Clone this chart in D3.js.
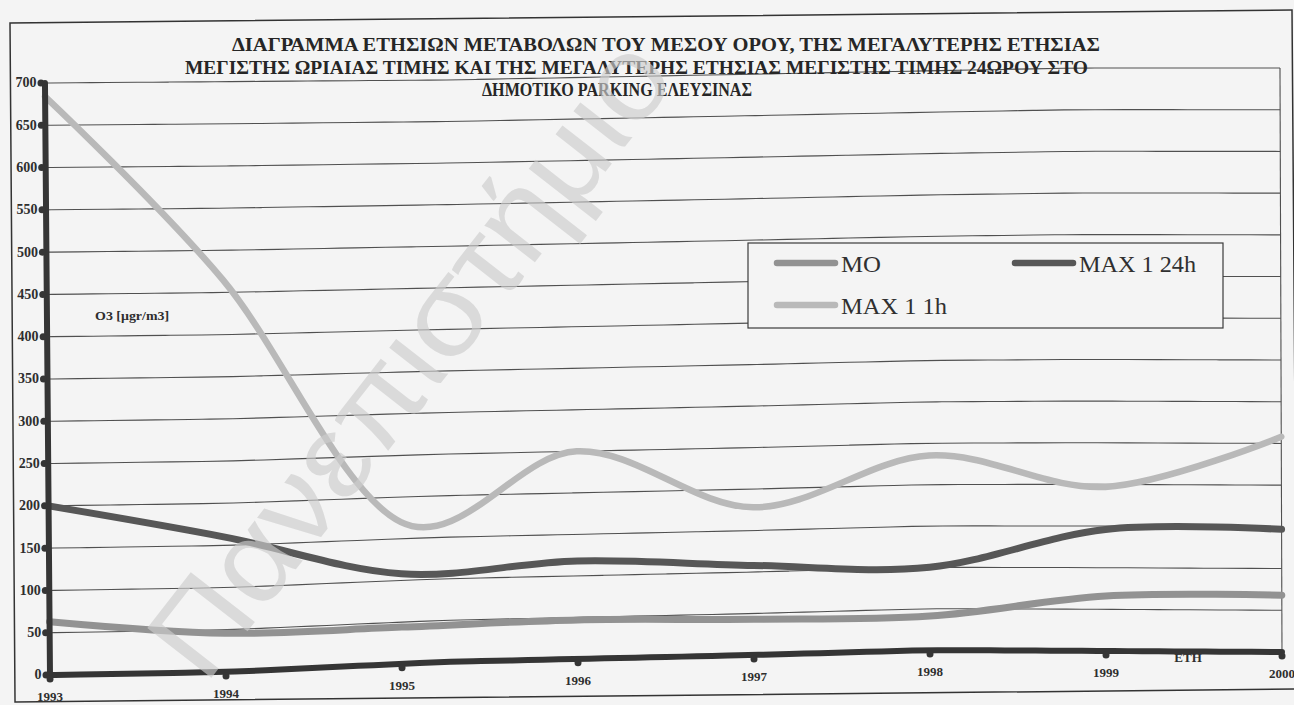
<!DOCTYPE html>
<html>
<head>
<meta charset="utf-8">
<script src="https://cdn.jsdelivr.net/npm/d3@7"></script>
<style>
    body { margin: 0; background: #f4f4f4; }
</style>
</head>
<body>
<div id="canvas"></div>
<script>
"use strict"

/* Data (O3, Δημοτικό Parking Ελευσίνας) */
let years = [1993, 1994, 1995, 1996, 1997, 1998, 1999, 2000];
let moValues = [63, 46, 44, 47, 43, 41, 66, 68];
let max24hValues = [200, 160, 108, 118, 108, 100, 146, 147];
let max1hValues = [684, 465, 170, 250, 178, 235, 197, 258];
let yTicks = [0, 50, 100, 150, 200, 250, 300, 350, 400, 450, 500, 550, 600, 650, 700];
let seriesNames = ["MO", "MAX 1 24h", "MAX 1 1h"];
let titleLines = [
    "ΔΙΑΓΡΑΜΜΑ ΕΤΗΣΙΩΝ ΜΕΤΑΒΟΛΩΝ ΤΟΥ ΜΕΣΟΥ ΟΡΟΥ, ΤΗΣ ΜΕΓΑΛΥΤΕΡΗΣ ΕΤΗΣΙΑΣ",
    "ΜΕΓΙΣΤΗΣ ΩΡΙΑΙΑΣ ΤΙΜΗΣ ΚΑΙ ΤΗΣ ΜΕΓΑΛΥΤΕΡΗΣ ΕΤΗΣΙΑΣ ΜΕΓΙΣΤΗΣ ΤΙΜΗΣ 24ΩΡΟΥ ΣΤΟ",
    "ΔΗΜΟΤΙΚΟ PARKING ΕΛΕΥΣΙΝΑΣ"
];
let yAxisTitle = "O3 [μgr/m3]";
let xAxisTitle = "ΕΤΗ";
let watermarkText = "Πανεπιστήμιο";

/* Configuration: drawing */
let svgWidth = 1294;
let svgHeight = 705;
let leftMargin = 50;
let rightEdge = 1282;
let topEdge = 83;
let baseLine = 675;
let bgColor = "#f4f4f4";
let inkColor = "#2e2e2e";
let serif = "'Liberation Serif', 'Times New Roman', serif";

let series = [
    { name: seriesNames[0], values: moValues, color: "#929292", width: 7 },
    { name: seriesNames[1], values: max24hValues, color: "#575757", width: 7 },
    { name: seriesNames[2], values: max1hValues, color: "#b9b9b9", width: 6.5 }
];

let svg = d3.select("#canvas")
    .append("svg")
    .attr("width", svgWidth)
    .attr("height", svgHeight);

svg.append("rect")
    .attr("width", svgWidth)
    .attr("height", svgHeight)
    .attr("fill", bgColor);

/* Scales */
let xScale = d3.scaleLinear()
    .domain([1993, 2000])
    .range([leftMargin, rightEdge]);

let yScale = d3.scaleLinear()
    .domain([0, 700])
    .range([baseLine, topEdge]);

/* the paper was bent on the scanner: lines climb toward the right,
   more at the bottom of the plot than at the top */
let bottomShift = d3.scaleLinear()
    .domain([50, 228, 440, 755, 930, 1282])
    .range([0, -3, -13, -20, -25, -23])
    .clamp(true);
let topShift = d3.scaleLinear()
    .domain([50, 450, 1080, 1282])
    .range([0, -3, -15, -15])
    .clamp(true);
let slantScale = d3.scaleLinear()
    .domain([leftMargin, rightEdge])
    .range([0.0085, 0.0034]);

function warp(x, y) {
    let t = (baseLine - y) / (baseLine - topEdge);
    let dy = bottomShift(x) * (1 - t) + topShift(x) * t;
    return [x + slantScale(x) * (y - baseLine), y + dy];
}

let samples = d3.range(0, 41).map(function (i) {
    return leftMargin + i * (rightEdge - leftMargin) / 40;
});
let smoothPath = d3.line().curve(d3.curveBasis);
let straightPath = d3.line();

/* gridlines */
svg.selectAll(".grid")
    .data(yTicks.filter(function (v) { return v > 0; }))
    .join("path")
    .attr("class", "grid")
    .attr("d", function (v) {
        return smoothPath(samples.map(function (x) { return warp(x, yScale(v)); }));
    })
    .attr("fill", "none")
    .attr("stroke", "#505050")
    .attr("stroke-width", 1.1);

/* right edge of plot area */
svg.append("path")
    .attr("d", straightPath([warp(rightEdge, yScale(700)), warp(rightEdge, yScale(0))]))
    .attr("stroke", "#505050")
    .attr("stroke-width", 1.1);

/* series lines, smoothed like the original spreadsheet */
let seriesLine = d3.line().curve(d3.curveCardinal.tension(0));

svg.selectAll(".series")
    .data(series)
    .join("path")
    .attr("class", "series")
    .attr("d", function (s) {
        return seriesLine(years.map(function (yr, i) {
            return warp(xScale(yr), yScale(s.values[i]));
        }));
    })
    .attr("fill", "none")
    .attr("stroke", function (s) { return s.color; })
    .attr("stroke-width", function (s) { return s.width; })
    .attr("stroke-linecap", "round")
    .attr("stroke-linejoin", "round");

/* x axis title, partly hidden under the axis line */
let ethPos = warp(1188, baseLine + 11);
svg.append("text")
    .attr("x", ethPos[0])
    .attr("y", ethPos[1])
    .attr("text-anchor", "middle")
    .attr("font-family", serif)
    .attr("font-weight", "bold")
    .attr("font-size", 13)
    .attr("fill", inkColor)
    .text(xAxisTitle);

/* thick axis lines */
svg.append("path")
    .attr("d", smoothPath(samples.map(function (x) { return warp(x, baseLine); })))
    .attr("fill", "none")
    .attr("stroke", "#353535")
    .attr("stroke-width", 6)
    .attr("stroke-linecap", "round");

svg.append("path")
    .attr("d", straightPath([warp(leftMargin, yScale(700)), warp(leftMargin, yScale(0))]))
    .attr("stroke", "#353535")
    .attr("stroke-width", 6)
    .attr("stroke-linecap", "round");

/* tick blobs */
svg.selectAll(".ydot")
    .data(yTicks)
    .join("circle")
    .attr("class", "ydot")
    .attr("cx", function (v) { return warp(leftMargin - 4, yScale(v))[0]; })
    .attr("cy", function (v) { return warp(leftMargin - 4, yScale(v))[1]; })
    .attr("r", 3.5)
    .attr("fill", "#353535");

svg.selectAll(".xdot")
    .data(years)
    .join("circle")
    .attr("class", "xdot")
    .attr("cx", function (yr) { return warp(xScale(yr), baseLine + 4)[0]; })
    .attr("cy", function (yr) { return warp(xScale(yr), baseLine + 4)[1]; })
    .attr("r", 3.5)
    .attr("fill", "#353535");

/* tick labels through d3 axes, then each tick moved onto the bent paper */
let yAxis = svg.append("g")
    .call(d3.axisLeft(yScale).tickValues(yTicks).tickSize(0).tickPadding(8.5));
yAxis.select(".domain").remove();
yAxis.selectAll(".tick")
    .attr("transform", function (v) { return "translate(" + warp(leftMargin, yScale(v)) + ")"; });
yAxis.attr("font-family", serif)
    .attr("font-size", 14)
    .attr("font-weight", "bold");
yAxis.selectAll("text").attr("fill", inkColor);

let xAxis = svg.append("g")
    .call(d3.axisBottom(xScale).tickValues(years).tickFormat(d3.format("d")).tickSize(0).tickPadding(17));
xAxis.select(".domain").remove();
xAxis.selectAll(".tick")
    .attr("transform", function (yr) { return "translate(" + warp(xScale(yr), baseLine) + ")"; });
xAxis.attr("font-family", serif)
    .attr("font-size", 13)
    .attr("font-weight", "bold");
xAxis.selectAll("text").attr("fill", inkColor);

/* y axis title inside plot */
let yTitlePos = warp(135, 321);
svg.append("text")
    .attr("x", yTitlePos[0])
    .attr("y", yTitlePos[1])
    .attr("text-anchor", "middle")
    .attr("font-family", serif)
    .attr("font-weight", "bold")
    .attr("font-size", 12)
    .attr("textLength", 74)
    .attr("lengthAdjust", "spacingAndGlyphs")
    .attr("fill", inkColor)
    .text(yAxisTitle);

/* Title, three lines */
let titleStarts = [232, 185, 482];
let titleWidths = [868, 903, 270];
for (let i = 0; i < titleLines.length; i++) {
    svg.append("text")
        .attr("x", titleStarts[i])
        .attr("y", 51 + i * 22.5)
        .attr("font-family", serif)
        .attr("font-weight", "bold")
        .attr("font-size", 19.5)
        .attr("textLength", titleWidths[i])
        .attr("lengthAdjust", "spacingAndGlyphs")
        .attr("fill", "#262626")
        .text(titleLines[i]);
}

/* Legend box */
let legendX = 748;
let legendY = 243;
svg.append("rect")
    .attr("x", legendX)
    .attr("y", legendY)
    .attr("width", 475)
    .attr("height", 85)
    .attr("fill", bgColor)
    .attr("stroke", "#3a3a3a")
    .attr("stroke-width", 1.2);

let legendCols = [0, 1, 0];
let legendRows = [0, 0, 1];
let legendTextWidths = [40, 117, 106];
for (let i = 0; i < series.length; i++) {
    let lx = legendX + 29 + legendCols[i] * 238;
    let ly = legendY + 20 + legendRows[i] * 42;
    svg.append("line")
        .attr("x1", lx)
        .attr("x2", lx + 58)
        .attr("y1", ly)
        .attr("y2", ly)
        .attr("stroke", series[i].color)
        .attr("stroke-width", 6.5)
        .attr("stroke-linecap", "round");

    svg.append("text")
        .attr("x", lx + 64)
        .attr("y", ly + 9)
        .attr("font-family", serif)
        .attr("font-size", 23)
        .attr("textLength", legendTextWidths[i])
        .attr("lengthAdjust", "spacingAndGlyphs")
        .attr("fill", "#303030")
        .text(series[i].name);
}

/* scanned page watermark */
svg.append("text")
    .attr("transform", "translate(205 686) rotate(-52.1)")
    .attr("font-family", "'Liberation Sans', Arial, sans-serif")
    .attr("font-size", 118)
    .attr("textLength", 770)
    .attr("lengthAdjust", "spacingAndGlyphs")
    .attr("fill", "#cdcdcd")
    .attr("opacity", 0.65)
    .text(watermarkText);

/* outer frame of the page figure */
svg.append("rect")
    .attr("width", 1282)
    .attr("height", 679)
    .attr("transform", "matrix(1,-0.0101,0.0074,1,10,23)")
    .attr("fill", "none")
    .attr("stroke", "#333")
    .attr("stroke-width", 1.5);
</script>
</body>
</html>
